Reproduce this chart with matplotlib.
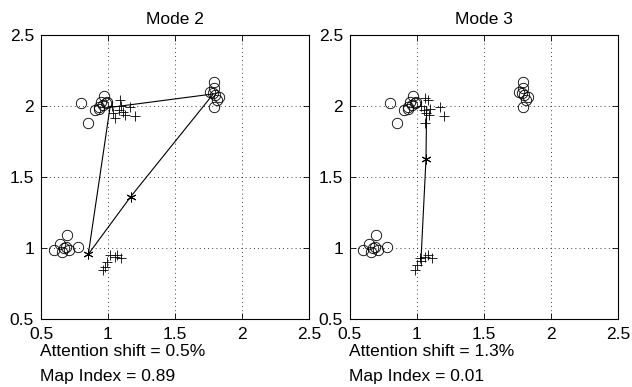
import matplotlib.pyplot as plt
import numpy as np

plt.rcParams['font.family'] = ['Liberation Sans', 'DejaVu Sans']

# circle clusters (same in both modes)
circ_x = [0.80, 0.85, 0.90, 0.935, 0.97, 0.985, 0.95, 0.93, 0.99, 0.96,
          0.60, 0.64, 0.694, 0.774, 0.668, 0.71, 0.66, 0.69,
          1.793, 1.79, 1.83, 1.76, 1.79, 1.80, 1.78, 1.81]
circ_y = [2.02, 1.88, 1.97, 1.995, 2.07, 2.02, 2.03, 1.98, 2.03, 2.01,
          0.986, 1.03, 1.092, 1.009, 1.0, 0.985, 0.97, 1.01,
          2.171, 1.99, 2.066, 2.10, 2.13, 2.08, 2.09, 2.04]

# mode 2
plus2_x = [1.09, 1.052, 1.201, 1.165, 1.115, 1.08, 1.04, 1.10, 1.13, 1.03,
           0.978, 0.99, 1.015, 1.05, 1.10, 1.065, 0.965]
plus2_y = [2.042, 1.913, 1.93, 1.99, 1.96, 1.97, 1.95, 2.0, 1.94, 2.0,
           0.868, 0.90, 0.951, 0.94, 0.93, 0.95, 0.845]
path2_x = [0.853, 1.015, 1.786, 1.169, 0.853]
path2_y = [0.956, 1.99, 2.085, 1.361, 0.956]
star2_x = [0.853, 1.169]
star2_y = [0.956, 1.361]

# mode 3
plus3_x = [1.06, 1.085, 1.17, 1.20, 1.05, 1.07, 1.10, 1.06, 1.09, 1.03,
           0.985, 1.0, 1.02, 1.06, 1.11, 1.03, 1.08]
plus3_y = [2.054, 2.04, 1.99, 1.93, 1.97, 1.95, 1.98, 1.88, 1.94, 2.0,
           0.845, 0.88, 0.93, 0.94, 0.93, 0.91, 0.95]
path3_x = [1.03, 1.067, 1.072]
path3_y = [0.92, 1.625, 1.995]
star3_x = [1.067]
star3_y = [1.625]

titles = ['Mode 2', 'Mode 3']
notes = [('Attention shift = 0.5%', 'Map Index = 0.89'),
         ('Attention shift = 1.3%', 'Map Index = 0.01')]
ticks = [0.5, 1, 1.5, 2, 2.5]
tick_labels = ['0.5', '1', '1.5', '2', '2.5']

fig = plt.figure(figsize=(6.32, 3.87), dpi=100)
lefts = [41 / 632, 350 / 632]
modes = [(plus2_x, plus2_y, path2_x, path2_y, star2_x, star2_y),
         (plus3_x, plus3_y, path3_x, path3_y, star3_x, star3_y)]

for i, (px, py, lx, ly, sx, sy) in enumerate(modes):
    ax = fig.add_axes([lefts[i], 68 / 387, 268 / 632, 284 / 387])
    ax.plot(circ_x, circ_y, 'o', mfc='none', mec='k', ms=7.5, mew=0.6)
    ax.plot(px, py, '+', color='k', ms=7, mew=0.6)
    ax.plot(lx, ly, '-', color='k', lw=0.8)
    ax.plot(sx, sy, marker=(6, 2, 0), ls='none', color='k', ms=7, mew=0.7)
    ax.set_xlim(0.5, 2.5)
    ax.set_ylim(0.5, 2.5)
    ax.set_xticks(ticks)
    ax.set_yticks(ticks)
    ax.set_xticklabels(tick_labels)
    ax.set_yticklabels(tick_labels)
    ax.tick_params(direction='in', top=True, right=True, labelsize=12.5,
                   length=4, width=0.6)
    ax.tick_params(axis='x', pad=6)
    ax.tick_params(axis='y', pad=5)
    ax.grid(True, linestyle=(0, (1, 4)), color='k', lw=0.6)
    for s in ax.spines.values():
        s.set_linewidth(0.8)
    ax.set_title(titles[i], fontsize=12.5, pad=8)
    fig.text(lefts[i] - 1 / 632, 1 - 352 / 387, notes[i][0], fontsize=12.5, va='center', ha='left')
    fig.text(lefts[i] - 1 / 632, 1 - 376 / 387, notes[i][1], fontsize=12.5, va='center', ha='left')

fig.savefig('out.png', dpi=100)
